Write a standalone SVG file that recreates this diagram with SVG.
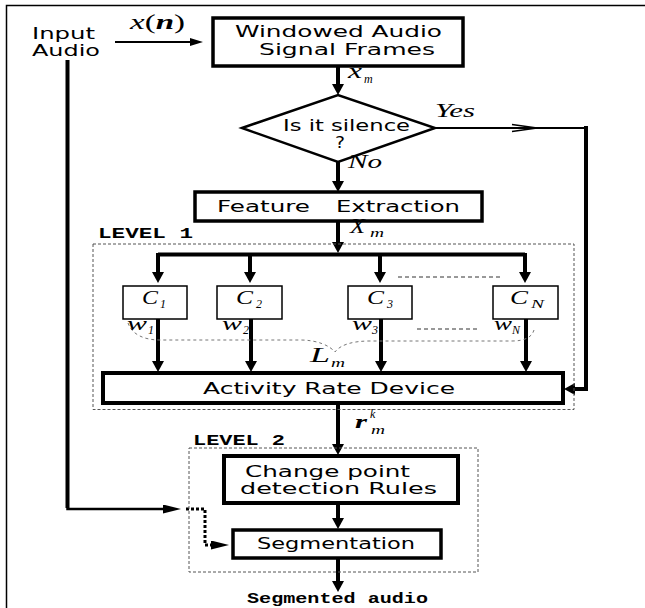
<svg xmlns="http://www.w3.org/2000/svg" width="645" height="608" viewBox="0 0 645 608">
<style>
.t{font-family:"DejaVu Sans",sans-serif;font-size:15px;fill:#000}
.m{font-family:"Liberation Serif",serif;font-style:italic;fill:#000}
.c{font-family:"Liberation Mono",monospace;font-weight:bold;font-size:14px;fill:#000}
.box{fill:#fff;stroke:#000}
.dbox{fill:none;stroke:#555;stroke-width:1;stroke-dasharray:3,2}
.ar{fill:none;stroke:#000;stroke-width:4;marker-end:url(#ah)}
</style>
<defs>
<marker id="ah" markerUnits="userSpaceOnUse" markerWidth="12" markerHeight="12" refX="3" refY="6" orient="auto"><path d="M0,0 L11,6 L0,12 z" fill="#000"/></marker>
<marker id="ahs" markerUnits="userSpaceOnUse" markerWidth="20" markerHeight="10" refX="4" refY="4.5" orient="auto"><path d="M0,0 L18,4.5 L0,9 z" fill="#000"/></marker>
<marker id="aht" markerUnits="userSpaceOnUse" markerWidth="14" markerHeight="9" refX="4" refY="4" orient="auto"><path d="M0,0 L13,4 L0,8 z" fill="#000"/></marker>
</defs>
<rect width="645" height="608" fill="#fff"/>
<path d="M6.5,608 V5.5 H645" fill="none" stroke="#000" stroke-width="1.5"/>

<g id="connectors">
<line x1="115" y1="42" x2="194" y2="42" stroke="#000" stroke-width="2" marker-end="url(#aht)"/>
<line x1="338" y1="66" x2="338" y2="87" class="ar"/>
<line x1="338" y1="162" x2="338" y2="184" class="ar"/>
<line x1="435" y1="128" x2="588" y2="128" stroke="#000" stroke-width="2"/>
<path d="M512,124.5 L537,128 L512,131.5" fill="none" stroke="#000" stroke-width="1.3"/>
<polyline points="586,126 586,389 572,389" class="ar"/>
<line x1="338" y1="221" x2="338" y2="245" class="ar"/>
<line x1="158" y1="254.5" x2="525" y2="254.5" stroke="#000" stroke-width="4"/>
<line x1="158" y1="253" x2="158" y2="275" class="ar"/>
<line x1="250" y1="253" x2="250" y2="275" class="ar"/>
<line x1="380" y1="253" x2="380" y2="275" class="ar"/>
<line x1="525" y1="253" x2="525" y2="275" class="ar"/>
<line x1="158" y1="319" x2="158" y2="364" class="ar"/>
<line x1="251" y1="319" x2="251" y2="364" class="ar"/>
<line x1="381" y1="319" x2="381" y2="364" class="ar"/>
<line x1="526" y1="319" x2="526" y2="364" class="ar"/>
<line x1="338" y1="403" x2="338" y2="447" class="ar"/>
<line x1="338" y1="503" x2="338" y2="521" class="ar"/>
<line x1="338" y1="558" x2="338" y2="584" class="ar"/>
<polyline points="67.5,60 67.5,509 167,509" fill="none" stroke="#000" stroke-width="2.5" marker-end="url(#ahs)"/>
<line x1="67.5" y1="60" x2="67.5" y2="508" stroke="#000" stroke-width="4"/>
<polyline points="186,509 205,509 205,545 215,545" fill="none" stroke="#000" stroke-width="3" stroke-dasharray="3,2" marker-end="url(#ahs)"/>
<line x1="398" y1="277" x2="500" y2="277" stroke="#333" stroke-width="1" stroke-dasharray="4,3"/>
<line x1="417" y1="329" x2="477" y2="329" stroke="#333" stroke-width="1.2" stroke-dasharray="4,3"/>
<path d="M128,323 C132,335 145,340 160,340 L300,340 C318,340 330,346 335,352 C340,345 352,341 370,341 L512,341 C525,341 532,337 534,330" fill="none" stroke="#777" stroke-width="1" stroke-dasharray="3,3"/>
</g>

<g id="level1"><rect x="93" y="244" width="481" height="165.5" class="dbox"/><text class="c" x="98" y="238" textLength="95" lengthAdjust="spacingAndGlyphs">LEVEL 1</text></g>
<g id="level2"><rect x="189" y="448" width="289" height="124" class="dbox"/><text class="c" x="193" y="445" textLength="92" lengthAdjust="spacingAndGlyphs">LEVEL 2</text></g>

<g id="input"><text class="t" x="32" y="39" textLength="63" lengthAdjust="spacingAndGlyphs">Input</text><text class="t" x="32" y="56" textLength="68" lengthAdjust="spacingAndGlyphs">Audio</text></g>
<text class="m" x="130" y="29" font-size="20" textLength="55" lengthAdjust="spacingAndGlyphs">x<tspan font-style="normal">(</tspan><tspan font-weight="bold">n</tspan><tspan font-style="normal">)</tspan></text>

<g id="windowed"><rect x="213" y="18" width="250" height="48" class="box" stroke-width="3.5"/>
<text class="t" x="235" y="37" textLength="207" lengthAdjust="spacingAndGlyphs">Windowed Audio</text>
<text class="t" x="259" y="55" textLength="176" lengthAdjust="spacingAndGlyphs">Signal Frames</text></g>
<text class="m" x="348" y="78" font-size="20" textLength="14" lengthAdjust="spacingAndGlyphs">x</text><text class="m" x="364" y="83" font-size="12">m</text>

<g id="silence"><polygon points="242,128 338,95 435,128 338,162" class="box" stroke-width="2.5"/>
<text class="t" x="283" y="131" textLength="127" lengthAdjust="spacingAndGlyphs">Is it silence</text>
<text class="t" x="335" y="148" textLength="10" lengthAdjust="spacingAndGlyphs">?</text></g>
<text class="m" x="435" y="117" font-size="19" textLength="40" lengthAdjust="spacingAndGlyphs">Yes</text>
<text class="m" x="348" y="168" font-size="19" textLength="34" lengthAdjust="spacingAndGlyphs">No</text>

<g id="feature"><rect x="195" y="192" width="287" height="29" class="box" stroke-width="3.5"/>
<text class="t" x="217" y="212" textLength="93" lengthAdjust="spacingAndGlyphs">Feature</text>
<text class="t" x="336" y="212" textLength="124" lengthAdjust="spacingAndGlyphs">Extraction</text></g>
<text class="m" x="350" y="233" font-size="20" textLength="15" lengthAdjust="spacingAndGlyphs">X</text><text class="m" x="370" y="237" font-size="12" textLength="14" lengthAdjust="spacingAndGlyphs">m</text>

<g id="c1"><rect x="123" y="286" width="64" height="33" class="box" stroke-width="1.5"/><text class="m" x="142" y="304" font-size="19" textLength="16" lengthAdjust="spacingAndGlyphs">C</text><text class="m" x="160" y="308" font-size="12" font-style="normal">1</text></g>
<g id="c2"><rect x="217" y="286" width="65" height="33" class="box" stroke-width="1.5"/><text class="m" x="236" y="304" font-size="19" textLength="17" lengthAdjust="spacingAndGlyphs">C</text><text class="m" x="256" y="308" font-size="12" font-style="normal">2</text></g>
<g id="c3"><rect x="348" y="286" width="64" height="33" class="box" stroke-width="1.5"/><text class="m" x="367" y="304" font-size="19" textLength="17" lengthAdjust="spacingAndGlyphs">C</text><text class="m" x="387" y="308" font-size="12" font-style="normal">3</text></g>
<g id="cN"><rect x="493" y="286" width="65" height="33" class="box" stroke-width="1.5"/><text class="m" x="510" y="304" font-size="19" textLength="18" lengthAdjust="spacingAndGlyphs">C</text><text class="m" x="531" y="308" font-size="12" textLength="13" lengthAdjust="spacingAndGlyphs">N</text></g>

<text class="m" x="127" y="330" font-size="18" textLength="20" lengthAdjust="spacingAndGlyphs">w</text><text class="m" x="148" y="334" font-size="12" font-style="normal">1</text>
<text class="m" x="222" y="330" font-size="18" textLength="20" lengthAdjust="spacingAndGlyphs">w</text><text class="m" x="243" y="334" font-size="12" font-style="normal">2</text>
<text class="m" x="352" y="330" font-size="18" textLength="20" lengthAdjust="spacingAndGlyphs">w</text><text class="m" x="372" y="334" font-size="12" font-style="normal">3</text>
<text class="m" x="494" y="330" font-size="18" textLength="18" lengthAdjust="spacingAndGlyphs">w</text><text class="m" x="512" y="334" font-size="12">N</text>
<text class="m" x="310" y="362" font-size="20" textLength="20" lengthAdjust="spacingAndGlyphs">L</text><text class="m" x="331" y="367" font-size="12" textLength="14" lengthAdjust="spacingAndGlyphs">m</text>

<g id="activity"><rect x="103" y="373" width="460" height="30" class="box" stroke-width="4"/>
<text class="t" x="203" y="394" textLength="252" lengthAdjust="spacingAndGlyphs">Activity Rate Device</text></g>
<text class="m" x="355" y="428" font-size="19" font-weight="bold" textLength="12" lengthAdjust="spacingAndGlyphs">r</text><text class="m" x="370" y="418" font-size="12">k</text><text class="m" x="371" y="434" font-size="12" textLength="14" lengthAdjust="spacingAndGlyphs">m</text>

<g id="change"><rect x="224" y="456" width="234" height="47" class="box" stroke-width="4"/>
<text class="t" x="245" y="477" textLength="165" lengthAdjust="spacingAndGlyphs">Change point</text>
<text class="t" x="240" y="494" textLength="197" lengthAdjust="spacingAndGlyphs">detection Rules</text></g>

<g id="segmentation"><rect x="233" y="530" width="208" height="28" class="box" stroke-width="3.5"/>
<text class="t" x="257" y="549" textLength="158" lengthAdjust="spacingAndGlyphs">Segmentation</text></g>
<text class="c" x="247" y="603" textLength="181" lengthAdjust="spacingAndGlyphs">Segmented audio</text>
</svg>
